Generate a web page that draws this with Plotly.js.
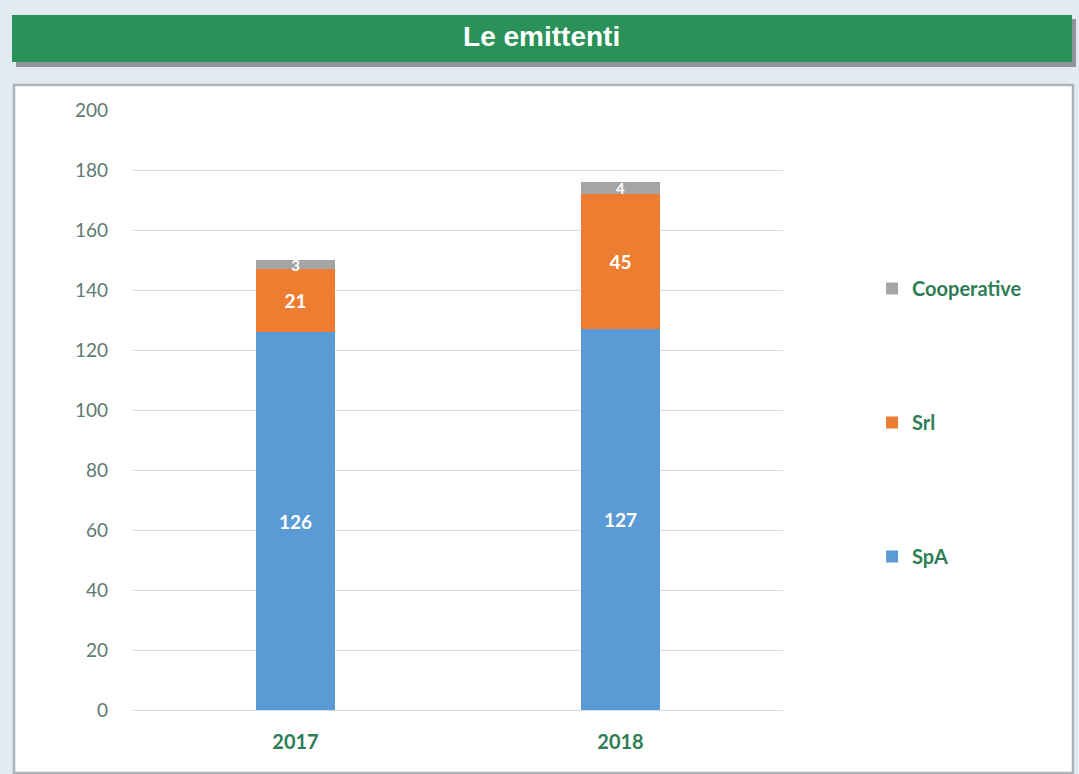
<!DOCTYPE html>
<html><head><meta charset="utf-8">
<script src="https://cdn.plot.ly/plotly-3.0.1.min.js"></script>
<style>html,body{margin:0;padding:0;background:#e3ebf1;}</style>
</head><body>
<div id="chart" style="width:1079px;height:774px;"></div>
<script>
const years = ['2017', '2018'];
const spa = [126, 127];
const srl = [21, 45];
const coop = [3, 4];
const seriesNames = ['SpA', 'Srl', 'Cooperative'];
const yTicks = [0, 20, 40, 60, 80, 100, 120, 140, 160, 180, 200];

const colors = ['#5b9bd5', '#ed7d31', '#a5a5a5'];
const vals = [spa, srl, coop];
const traces = vals.map((v, i) => ({
  type: 'bar', x: years, y: v, name: seriesNames[i],
  marker: {color: colors[i], line: {width: 0}},
  text: v.map(String), textposition: 'inside', insidetextanchor: 'middle', textangle: 0,
  constraintext: 'none', cliponaxis: false,
  textfont: {family: 'Lato, Open Sans, sans-serif', size: i === 2 ? 15 : 19, color: '#ffffff', weight: 'bold'},
  legendgroup: 'g' + i, legendrank: 3 - i, hoverinfo: 'skip'
}));

const layout = {
  width: 1079, height: 774,
  paper_bgcolor: '#e3ebf1', plot_bgcolor: '#ffffff',
  margin: {l: 133, r: 296, t: 110, b: 64},
  barmode: 'stack', bargap: 0.754,
  showlegend: true,
  legend: {x: 1.137, xanchor: 'left', y: 0.735, yanchor: 'top', traceorder: 'grouped',
    tracegroupgap: 105, bgcolor: 'rgba(0,0,0,0)',
    font: {family: 'Lato, Open Sans, sans-serif', size: 20, color: '#2e7d55', weight: 'bold'},
    itemwidth: 30},
  title: {text: 'Le emittenti', x: 0.502, xref: 'container', xanchor: 'center', yref: 'container', y: 0.953, yanchor: 'middle',
    font: {family: 'Liberation Sans, Arial, sans-serif', size: 28, color: '#ffffff', weight: 'bold'}},
  xaxis: {type: 'category', range: [-0.5, 1.5], showgrid: false, showline: false, zeroline: false,
    ticks: '', ticklabelstandoff: 18,
    tickfont: {family: 'Lato, Open Sans, sans-serif', size: 20, color: '#2e7d55', weight: 'bold'}},
  yaxis: {range: [0, 200], tickvals: yTicks, ticktext: yTicks.map(String),
    showgrid: true, gridcolor: '#d5dee8', gridwidth: 1, zeroline: true, zerolinecolor: '#d5dee8',
    showline: false, ticks: '', ticklabelstandoff: 24,
    tickfont: {family: 'Lato, Open Sans, sans-serif', size: 19, color: '#5d7a70'}},
  shapes: [
    {type: 'rect', xref: 'paper', yref: 'paper', layer: 'below',
      x0: -133/650 + 16/650, x1: -133/650 + 1076/650, y0: 1 + (110 - 67)/600, y1: 1 + (110 - 19)/600,
      fillcolor: '#8e9499', line: {width: 0}},
    {type: 'rect', xref: 'paper', yref: 'paper', layer: 'below',
      x0: -133/650 + 12/650, x1: -133/650 + 1072/650, y0: 1 + (110 - 62)/600, y1: 1 + (110 - 15)/600,
      fillcolor: '#2a9158', line: {width: 0}},
    {type: 'rect', xref: 'paper', yref: 'paper', layer: 'below',
      x0: -133/650 + 14/650, x1: -133/650 + 1073/650, y0: (710 - 773)/600, y1: 1 + (110 - 85)/600,
      fillcolor: '#ffffff', line: {width: 2.5, color: '#aab4bc'}}
  ]
};

Plotly.newPlot('chart', traces, layout, {displayModeBar: false, staticPlot: true});
</script>
</body></html>
